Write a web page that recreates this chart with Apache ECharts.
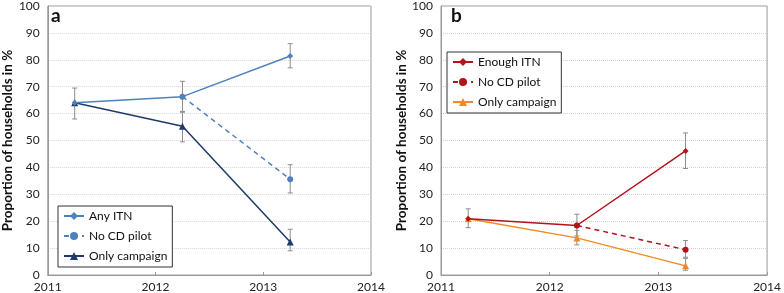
<!DOCTYPE html>
<html>
<head>
<meta charset="utf-8">
<script src="https://cdn.jsdelivr.net/npm/echarts@6/dist/echarts.min.js"></script>
<style>
  html, body { margin: 0; padding: 0; background: #fff; }
  #chart { width: 784px; height: 293px; }
</style>
</head>
<body>
<div id="chart"></div>
<script>
// survey years (plotted a quarter into each year)
const years = [2011.25, 2012.25, 2013.25];
const xTicks = [2011, 2012, 2013, 2014];

// panel a
const anyItn = [64.0, 66.3, 81.4];
const anyItnLow = [58.0, 60.8, 77.0];
const anyItnHigh = [69.5, 72.0, 86.0];
const noCdA = [null, 66.3, 35.6];
const noCdALow = [null, null, 30.5];
const noCdAHigh = [null, null, 41.0];
const onlyCampA = [64.0, 55.3, 12.3];
const onlyCampALow = [null, 49.5, 9.0];
const onlyCampAHigh = [null, 60.5, 17.0];

// panel b
const enoughItn = [20.9, 18.4, 46.1];
const enoughItnLow = [17.6, 14.5, 39.6];
const enoughItnHigh = [24.6, 22.6, 52.8];
const noCdB = [null, 18.4, 9.4];
const noCdBLow = [null, null, 6.6];
const noCdBHigh = [null, null, 12.8];
const onlyCampB = [20.9, 13.8, 3.4];
const onlyCampBLow = [null, 11.2, 1.8];
const onlyCampBHigh = [null, 16.6, 6.2];

const FONT = 'Lato, sans-serif';

function pts(vals) {
    return years.map((x, i) => vals[i] == null ? null : [x, vals[i]]).filter(p => p);
}

function bars(low, high) {
    return years.map((x, i) => low[i] == null ? null : [x, low[i], high[i]]).filter(p => p);
}

function errorSeries(idx, data) {
    return {
        type: 'custom',
        xAxisIndex: idx,
        yAxisIndex: idx,
        silent: true,
        z: 1,
        encode: {x: 0, y: [1, 2]},
        data: data,
        renderItem: function (params, api) {
            const lo = api.coord([api.value(0), api.value(1)]);
            const hi = api.coord([api.value(0), api.value(2)]);
            const w = 2.5;
            const style = {stroke: '#8c8c8c', lineWidth: 1};
            return {
                type: 'group',
                children: [
                    {type: 'line', shape: {x1: lo[0], y1: lo[1], x2: hi[0], y2: hi[1]}, style: style},
                    {type: 'line', shape: {x1: lo[0] - w, y1: lo[1], x2: lo[0] + w, y2: lo[1]}, style: style},
                    {type: 'line', shape: {x1: hi[0] - w, y1: hi[1], x2: hi[0] + w, y2: hi[1]}, style: style}
                ]
            };
        }
    };
}

function lineSeries(idx, name, data, color, symbol, size, dashed) {
    return {
        type: 'line',
        name: name,
        xAxisIndex: idx,
        yAxisIndex: idx,
        data: pts(data),
        symbol: symbol,
        symbolSize: size,
        showSymbol: true,
        z: 3,
        itemStyle: {color: color},
        lineStyle: {color: color, width: 1.5, type: dashed ? [5, 4] : 'solid'},
        emphasis: {disabled: true}
    };
}

function xAxis(idx) {
    return {
        type: 'value', gridIndex: idx, min: 2011, max: 2014, interval: 1,
        axisLine: {show: true, onZero: false, lineStyle: {color: '#9a9a9a'}},
        axisTick: {show: true, inside: true, length: 3, lineStyle: {color: '#9a9a9a'}},
        splitLine: {show: false},
        axisLabel: {color: '#222', fontSize: 12, fontFamily: FONT, margin: 6,
            formatter: v => xTicks.indexOf(v) >= 0 ? String(v) : ''}
    };
}

function yAxis(idx) {
    return {
        type: 'value', gridIndex: idx, min: 0, max: 100, interval: 10,
        name: 'Proportion of households in %',
        nameLocation: 'middle', nameGap: 25,
        nameTextStyle: {fontSize: 13.5, fontWeight: 'bold', color: '#111', fontFamily: FONT},
        axisLine: {show: true, lineStyle: {color: '#9a9a9a'}},
        axisTick: {show: false},
        splitLine: {show: true, lineStyle: {color: '#d4d4d4', type: 'dotted'}},
        axisLabel: {color: '#222', fontSize: 12, fontFamily: FONT, margin: 8}
    };
}

function legend(idx, names, left, top) {
    return {
        orient: 'vertical', left: left, top: top,
        data: names,
        formatter: n => n.replace(/^b:/, ''),
        itemWidth: 20, itemHeight: 10, itemGap: 8, itemTextGap: 3,
        padding: [4, 5, 5, 5],
        borderColor: '#333', borderWidth: 1, backgroundColor: '#fff',
        selectedMode: false,
        textStyle: {fontSize: 12, color: '#111', fontFamily: FONT, lineHeight: 12}
    };
}

const chart = echarts.init(document.getElementById('chart'));
chart.setOption({
    animation: false,
    grid: [
        {left: 41, right: 413, top: 5, bottom: 18, show: true, borderColor: '#9a9a9a', borderWidth: 1},
        {left: 441, right: 12, top: 5, bottom: 18, show: true, borderColor: '#9a9a9a', borderWidth: 1}
    ],
    xAxis: [xAxis(0), xAxis(1)],
    yAxis: [yAxis(0), yAxis(1)],
    legend: [
        legend(0, ['Any ITN', 'No CD pilot', 'Only campaign'], 58, 206),
        legend(1, ['b:Enough ITN', 'b:No CD pilot', 'b:Only campaign'], 447, 52)
    ],
    graphic: [
        {type: 'text', left: 51, top: 6, style: {text: 'a', fill: '#111', font: 'bold 19px ' + FONT}},
        {type: 'text', left: 451, top: 6, style: {text: 'b', fill: '#111', font: 'bold 19px ' + FONT}}
    ],
    series: [
        errorSeries(0, bars(anyItnLow, anyItnHigh)),
        errorSeries(0, bars(noCdALow, noCdAHigh)),
        errorSeries(0, bars(onlyCampALow, onlyCampAHigh)),
        lineSeries(0, 'No CD pilot', noCdA, '#4f81bd', 'circle', 6, true),
        lineSeries(0, 'Only campaign', onlyCampA, '#1f3a68', 'triangle', 7, false),
        lineSeries(0, 'Any ITN', anyItn, '#4f81bd', 'diamond', 6, false),

        errorSeries(1, bars(enoughItnLow, enoughItnHigh)),
        errorSeries(1, bars(noCdBLow, noCdBHigh)),
        errorSeries(1, bars(onlyCampBLow, onlyCampBHigh)),
        lineSeries(1, 'b:No CD pilot', noCdB, '#b5121b', 'circle', 6, true),
        lineSeries(1, 'b:Only campaign', onlyCampB, '#f08a24', 'triangle', 7, false),
        lineSeries(1, 'b:Enough ITN', enoughItn, '#b5121b', 'diamond', 6, false)
    ]
});
</script>
</body>
</html>
